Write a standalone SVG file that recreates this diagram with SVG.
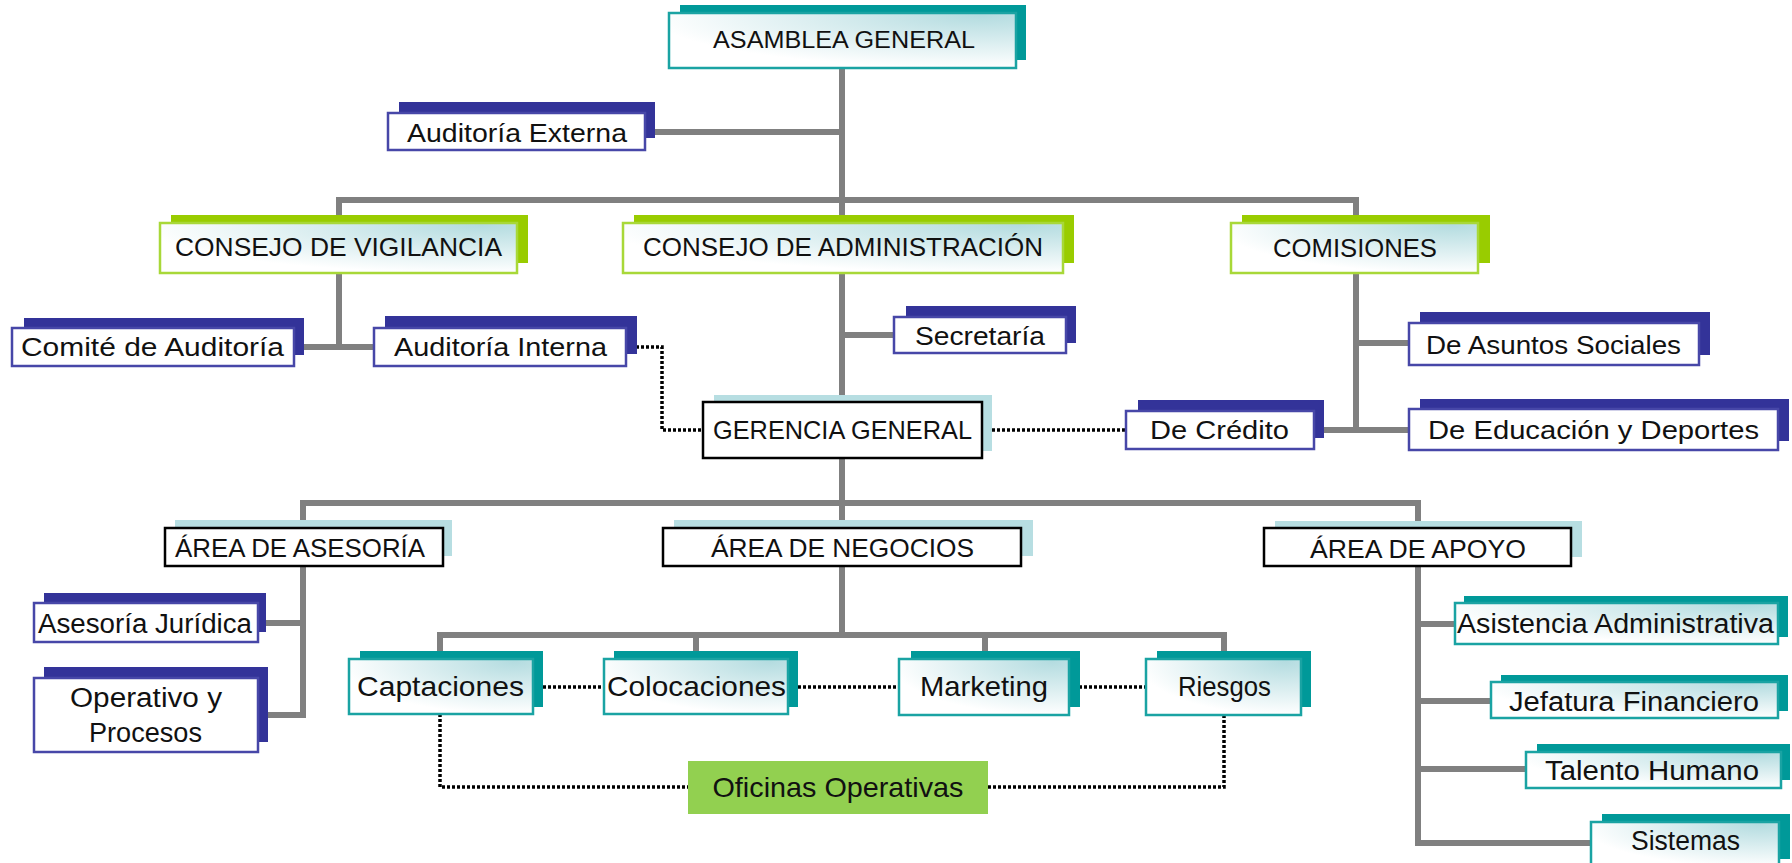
<svg xmlns="http://www.w3.org/2000/svg" width="1792" height="863" viewBox="0 0 1792 863">
<defs>
<radialGradient id="gb" cx="0.9" cy="0.05" r="0.95" fx="0.9" fy="0.05">
<stop offset="0" stop-color="#B4DCE0"/>
<stop offset="1" stop-color="#FFFFFF"/>
</radialGradient>
</defs>
<style>
.ln{stroke:#808080;stroke-width:6;fill:none;stroke-linecap:square}
.dt{stroke:#000;stroke-width:3.5;fill:none;stroke-dasharray:3 2}
.shT{fill:#009999}
.shG{fill:#99CC00}
.shN{fill:#333399}
.shL{fill:#B7DEE2}
.frT{fill:url(#gb);stroke:#1AA3A3;stroke-width:2.5}
.frG{fill:url(#gb);stroke:#A8D838;stroke-width:2.5}
.frN{fill:#fff;stroke:#4747A8;stroke-width:2.5}
.frK{fill:#fff;stroke:#000;stroke-width:2.5}
.ofi{fill:#92D050}
text{font-family:"Liberation Sans",Arial,sans-serif;fill:#111;text-anchor:middle}
.f23{font-size:23px}
.f25{font-size:25px}
.f26{font-size:26px}
.f27{font-size:27px}
.f28{font-size:28px}
</style>
<g id="connectors">
<path class="ln" d="M842 68V223"/>
<path class="ln" d="M655 132H842"/>
<path class="ln" d="M339 223V200H1356V223"/>
<path class="ln" d="M339 273V347M294 347H374"/>
<path class="ln" d="M842 273V402M842 335H894"/>
<path class="ln" d="M1356 273V430M1356 343H1409M1314 430H1409"/>
<path class="ln" d="M842 458V528M303 528V503H1418V528"/>
<path class="ln" d="M303 566V715M258 623H303M258 715H303"/>
<path class="ln" d="M842 566V635M440 659V635H1224V659M696 635V659M985 635V659"/>
<path class="ln" d="M1418 566V843M1418 624H1455M1418 701H1491M1418 769H1526M1418 843H1591"/>
<path class="dt" d="M626 347H662V430H703"/>
<path class="dt" d="M982 430H1126"/>
<path class="dt" d="M533 687H604M788 687H899M1069 687H1146"/>
<path class="dt" d="M440 714V787H688M988 787H1224V714"/>
</g>
<g id="asamblea">
<rect class="shT" x="680" y="5" width="346" height="55"/>
<rect class="frT" x="669" y="13" width="347" height="55"/>
<text class="f23" x="844" y="48" textLength="262" lengthAdjust="spacingAndGlyphs">ASAMBLEA GENERAL</text>
</g>
<g id="auditoria-externa">
<rect class="shN" x="399" y="102" width="256" height="36"/>
<rect class="frN" x="388" y="113" width="257" height="37"/>
<text class="f26" x="517" y="142" textLength="220" lengthAdjust="spacingAndGlyphs">Auditoría Externa</text>
</g>
<g id="consejo-vigilancia">
<rect class="shG" x="171" y="215" width="357" height="48"/>
<rect class="frG" x="160" y="223" width="357" height="50"/>
<text class="f25" x="338.5" y="256" textLength="327" lengthAdjust="spacingAndGlyphs">CONSEJO DE VIGILANCIA</text>
</g>
<g id="consejo-administracion">
<rect class="shG" x="634" y="215" width="440" height="48"/>
<rect class="frG" x="623" y="223" width="440" height="50"/>
<text class="f25" x="843" y="256" textLength="400" lengthAdjust="spacingAndGlyphs">CONSEJO DE ADMINISTRACIÓN</text>
</g>
<g id="comisiones">
<rect class="shG" x="1242" y="215" width="248" height="48"/>
<rect class="frG" x="1231" y="223" width="247" height="50"/>
<text class="f25" x="1355" y="257" textLength="164" lengthAdjust="spacingAndGlyphs">COMISIONES</text>
</g>
<g id="comite-auditoria">
<rect class="shN" x="24" y="318" width="280" height="37"/>
<rect class="frN" x="12" y="328" width="282" height="38"/>
<text class="f26" x="152.5" y="356" textLength="263" lengthAdjust="spacingAndGlyphs">Comité de Auditoría</text>
</g>
<g id="auditoria-interna">
<rect class="shN" x="385" y="316" width="252" height="38"/>
<rect class="frN" x="374" y="328" width="252" height="38"/>
<text class="f26" x="500.5" y="356" textLength="213" lengthAdjust="spacingAndGlyphs">Auditoría Interna</text>
</g>
<g id="secretaria">
<rect class="shN" x="906" y="306" width="170" height="37"/>
<rect class="frN" x="894" y="317" width="172" height="36"/>
<text class="f26" x="980" y="345" textLength="130" lengthAdjust="spacingAndGlyphs">Secretaría</text>
</g>
<g id="gerencia">
<rect class="shL" x="714" y="395" width="278" height="56"/>
<rect class="frK" x="703" y="402" width="279" height="56"/>
<text class="f25" x="842.5" y="439" textLength="259" lengthAdjust="spacingAndGlyphs">GERENCIA GENERAL</text>
</g>
<g id="de-credito">
<rect class="shN" x="1138" y="400" width="186" height="38"/>
<rect class="frN" x="1126" y="411" width="188" height="38"/>
<text class="f26" x="1219.5" y="439" textLength="139" lengthAdjust="spacingAndGlyphs">De Crédito</text>
</g>
<g id="asuntos-sociales">
<rect class="shN" x="1420" y="312" width="290" height="43"/>
<rect class="frN" x="1409" y="323" width="290" height="42"/>
<text class="f26" x="1553.5" y="354" textLength="255" lengthAdjust="spacingAndGlyphs">De Asuntos Sociales</text>
</g>
<g id="educacion-deportes">
<rect class="shN" x="1420" y="399" width="369" height="42"/>
<rect class="frN" x="1409" y="409" width="369" height="41"/>
<text class="f26" x="1593.5" y="439" textLength="331" lengthAdjust="spacingAndGlyphs">De Educación y Deportes</text>
</g>
<g id="area-asesoria">
<rect class="shL" x="175" y="520" width="277" height="36"/>
<rect class="frK" x="165" y="528" width="278" height="38"/>
<text class="f25" x="300" y="557" textLength="250" lengthAdjust="spacingAndGlyphs">ÁREA DE ASESORÍA</text>
</g>
<g id="area-negocios">
<rect class="shL" x="674" y="520" width="359" height="36"/>
<rect class="frK" x="663" y="528" width="358" height="38"/>
<text class="f25" x="842.5" y="557" textLength="263" lengthAdjust="spacingAndGlyphs">ÁREA DE NEGOCIOS</text>
</g>
<g id="area-apoyo">
<rect class="shL" x="1275" y="521" width="307" height="36"/>
<rect class="frK" x="1264" y="528" width="307" height="38"/>
<text class="f25" x="1418" y="558" textLength="216" lengthAdjust="spacingAndGlyphs">ÁREA DE APOYO</text>
</g>
<g id="asesoria-juridica">
<rect class="shN" x="44" y="593" width="222" height="39"/>
<rect class="frN" x="34" y="603" width="224" height="39"/>
<text class="f27" x="145" y="633" textLength="214" lengthAdjust="spacingAndGlyphs">Asesoría Jurídica</text>
</g>
<g id="operativo-procesos">
<rect class="shN" x="44" y="667" width="224" height="75"/>
<rect class="frN" x="34" y="678" width="224" height="74"/>
<text class="f27" x="146" y="707" textLength="152" lengthAdjust="spacingAndGlyphs">Operativo y</text>
<text class="f27" x="145.5" y="742" textLength="113" lengthAdjust="spacingAndGlyphs">Procesos</text>
</g>
<g id="captaciones">
<rect class="shT" x="360" y="651" width="183" height="56"/>
<rect class="frT" x="349" y="659" width="184" height="55"/>
<text class="f28" x="440.5" y="696" textLength="167" lengthAdjust="spacingAndGlyphs">Captaciones</text>
</g>
<g id="colocaciones">
<rect class="shT" x="614" y="651" width="184" height="56"/>
<rect class="frT" x="604" y="659" width="184" height="55"/>
<text class="f28" x="696.5" y="696" textLength="179" lengthAdjust="spacingAndGlyphs">Colocaciones</text>
</g>
<g id="marketing">
<rect class="shT" x="911" y="651" width="169" height="56"/>
<rect class="frT" x="899" y="659" width="170" height="56"/>
<text class="f28" x="984" y="696" textLength="128" lengthAdjust="spacingAndGlyphs">Marketing</text>
</g>
<g id="riesgos">
<rect class="shT" x="1157" y="651" width="154" height="56"/>
<rect class="frT" x="1146" y="659" width="155" height="56"/>
<text class="f28" x="1224.5" y="696" textLength="93" lengthAdjust="spacingAndGlyphs">Riesgos</text>
</g>
<g id="oficinas-operativas">
<rect class="ofi" x="688" y="761" width="300" height="53"/>
<text class="f28" x="838" y="797" textLength="251" lengthAdjust="spacingAndGlyphs">Oficinas Operativas</text>
</g>
<g id="asistencia-administrativa">
<rect class="shT" x="1464" y="596" width="324" height="41"/>
<rect class="frT" x="1455" y="603" width="323" height="41"/>
<text class="f27" x="1615.5" y="633" textLength="317" lengthAdjust="spacingAndGlyphs">Asistencia Administrativa</text>
</g>
<g id="jefatura-financiero">
<rect class="shT" x="1501" y="675" width="287" height="36"/>
<rect class="frT" x="1491" y="682" width="287" height="36"/>
<text class="f27" x="1634" y="711" textLength="250" lengthAdjust="spacingAndGlyphs">Jefatura Financiero</text>
</g>
<g id="talento-humano">
<rect class="shT" x="1537" y="744" width="253" height="36"/>
<rect class="frT" x="1526" y="752" width="255" height="36"/>
<text class="f27" x="1652" y="780" textLength="214" lengthAdjust="spacingAndGlyphs">Talento Humano</text>
</g>
<g id="sistemas">
<rect class="shT" x="1602" y="814" width="188" height="45"/>
<rect class="frT" x="1591" y="822" width="188" height="45"/>
<text class="f27" x="1685.5" y="850" textLength="109" lengthAdjust="spacingAndGlyphs">Sistemas</text>
</g>
</svg>
